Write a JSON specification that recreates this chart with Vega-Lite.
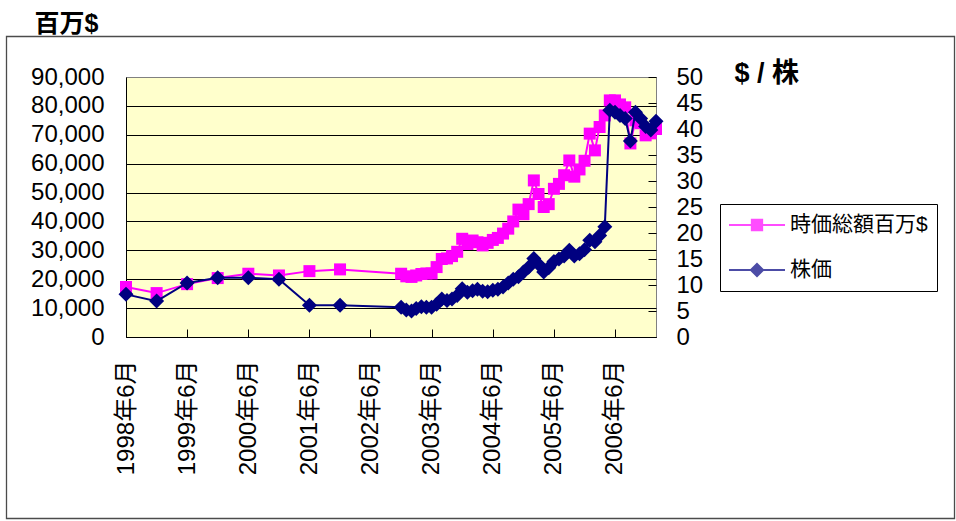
{
  "$schema": "https://vega.github.io/schema/vega-lite/v6.json",
  "autosize": "none",
  "width": 530,
  "height": 260,
  "padding": {"left": 126, "top": 77, "right": 300, "bottom": 184},
  "background": "white",
  "view": {"fill": "#FFFFCC", "stroke": "#808080", "strokeWidth": 1},
  "data": {"values": [
    {"date": "1998-06-01", "cap": 17300, "price": 8.2},
    {"date": "1998-12-01", "cap": 15200, "price": 6.9},
    {"date": "1999-06-01", "cap": 18300, "price": 10.4},
    {"date": "1999-12-01", "cap": 20400, "price": 11.4},
    {"date": "2000-06-01", "cap": 21900, "price": 11.4},
    {"date": "2000-12-01", "cap": 21300, "price": 11.1},
    {"date": "2001-06-01", "cap": 22800, "price": 6.1},
    {"date": "2001-12-01", "cap": 23400, "price": 6.1},
    {"date": "2002-12-01", "cap": 21900, "price": 5.7},
    {"date": "2003-01-01", "cap": 21000, "price": 5.2},
    {"date": "2003-02-01", "cap": 20800, "price": 5.0},
    {"date": "2003-03-01", "cap": 21300, "price": 5.5},
    {"date": "2003-04-01", "cap": 21800, "price": 5.8},
    {"date": "2003-05-01", "cap": 22000, "price": 5.7},
    {"date": "2003-06-01", "cap": 22000, "price": 5.7},
    {"date": "2003-07-01", "cap": 24200, "price": 6.3},
    {"date": "2003-08-01", "cap": 27000, "price": 7.3},
    {"date": "2003-09-01", "cap": 27200, "price": 7.0},
    {"date": "2003-10-01", "cap": 28000, "price": 7.3},
    {"date": "2003-11-01", "cap": 29500, "price": 8.0},
    {"date": "2003-12-01", "cap": 34000, "price": 9.3},
    {"date": "2004-01-01", "cap": 32200, "price": 8.6},
    {"date": "2004-02-01", "cap": 33400, "price": 8.9},
    {"date": "2004-03-01", "cap": 32800, "price": 9.2},
    {"date": "2004-04-01", "cap": 31700, "price": 8.8},
    {"date": "2004-05-01", "cap": 32600, "price": 8.7},
    {"date": "2004-06-01", "cap": 33600, "price": 9.0},
    {"date": "2004-07-01", "cap": 34300, "price": 9.2},
    {"date": "2004-08-01", "cap": 35800, "price": 9.6},
    {"date": "2004-09-01", "cap": 37500, "price": 10.4},
    {"date": "2004-10-01", "cap": 40000, "price": 11.1},
    {"date": "2004-11-01", "cap": 44100, "price": 11.6},
    {"date": "2004-12-01", "cap": 42500, "price": 12.5},
    {"date": "2005-01-01", "cap": 46000, "price": 13.4},
    {"date": "2005-02-01", "cap": 54200, "price": 15.1},
    {"date": "2005-03-01", "cap": 49500, "price": 14.0},
    {"date": "2005-04-01", "cap": 45000, "price": 12.5},
    {"date": "2005-05-01", "cap": 46000, "price": 13.3},
    {"date": "2005-06-01", "cap": 51300, "price": 14.5},
    {"date": "2005-07-01", "cap": 53000, "price": 15.0},
    {"date": "2005-08-01", "cap": 56000, "price": 15.6},
    {"date": "2005-09-01", "cap": 61100, "price": 16.7},
    {"date": "2005-10-01", "cap": 55500, "price": 15.6},
    {"date": "2005-11-01", "cap": 58000, "price": 16.0},
    {"date": "2005-12-01", "cap": 61000, "price": 16.8},
    {"date": "2006-01-01", "cap": 70400, "price": 18.6},
    {"date": "2006-02-01", "cap": 64600, "price": 18.3},
    {"date": "2006-03-01", "cap": 72700, "price": 19.5},
    {"date": "2006-04-01", "cap": 76700, "price": 21.2},
    {"date": "2006-05-01", "cap": 81900, "price": 43.6},
    {"date": "2006-06-01", "cap": 81900, "price": 43.2},
    {"date": "2006-07-01", "cap": 80500, "price": 42.6},
    {"date": "2006-08-01", "cap": 79500, "price": 42.0},
    {"date": "2006-09-01", "cap": 67000, "price": 37.7},
    {"date": "2006-10-01", "cap": 75000, "price": 43.2},
    {"date": "2006-11-01", "cap": 74000, "price": 42.0},
    {"date": "2006-12-01", "cap": 69800, "price": 40.5},
    {"date": "2007-01-01", "cap": 70500, "price": 39.8},
    {"date": "2007-02-01", "cap": 72000, "price": 41.5}
  ]},
  "layer": [
    {
      "encoding": {
        "x": {
          "field": "date", "type": "temporal",
          "scale": {"type": "utc", "domain": [{"year": 1998, "month": 6, "date": 1, "utc": true}, {"year": 2007, "month": 2, "date": 1, "utc": true}]},
          "axis": {
            "title": null,
            "values": [
              {"year": 1998, "month": 6, "date": 1, "utc": true},
              {"year": 1999, "month": 6, "date": 1, "utc": true},
              {"year": 2000, "month": 6, "date": 1, "utc": true},
              {"year": 2001, "month": 6, "date": 1, "utc": true},
              {"year": 2002, "month": 6, "date": 1, "utc": true},
              {"year": 2003, "month": 6, "date": 1, "utc": true},
              {"year": 2004, "month": 6, "date": 1, "utc": true},
              {"year": 2005, "month": 6, "date": 1, "utc": true},
              {"year": 2006, "month": 6, "date": 1, "utc": true}
            ],
            "format": "%Y年%-m月",
            "labelAngle": 270,
            "labelOverlap": false,
            "labelFlush": false,
            "tickSize": -8,
            "labelPadding": 31,
            "grid": false
          }
        },
        "y": {
          "field": "cap", "type": "quantitative",
          "scale": {"domain": [0, 90000]},
          "axis": {
            "orient": "left",
            "values": [0, 10000, 20000, 30000, 40000, 50000, 60000, 70000, 80000, 90000],
            "format": ",d",
            "grid": true,
            "gridColor": {"condition": {"test": "datum.value == 90000", "value": "#808080"}, "value": "#000000"},
            "gridWidth": 1,
            "ticks": false,
            "labelPadding": 22,
            "title": "百万$",
            "titleAngle": 0,
            "titleX": -92,
            "titleY": -46,
            "titleAlign": "left",
            "titleBaseline": "alphabetic",
            "titleFontSize": 25,
            "titleFontWeight": "bold"
          }
        }
      },
      "layer": [
        {"mark": {"type": "line", "color": "#FF00FF", "strokeWidth": 2}},
        {"mark": {"type": "point", "shape": "square", "filled": true, "size": 144, "color": "#FF00FF", "opacity": 1}}
      ]
    },
    {
      "encoding": {
        "x": {"field": "date", "type": "temporal"},
        "y": {
          "field": "price", "type": "quantitative",
          "scale": {"domain": [0, 50]},
          "axis": {
            "orient": "right",
            "values": [0, 5, 10, 15, 20, 25, 30, 35, 40, 45, 50],
            "grid": false,
            "domain": false,
            "tickSize": -8,
            "labelPadding": 28,
            "labelAlign": "left",
            "title": "$ / 株",
            "titleAngle": 0,
            "titleX": 78,
            "titleY": 4,
            "titleAlign": "left",
            "titleBaseline": "alphabetic",
            "titleFontSize": 27,
            "titleFontWeight": "bold"
          }
        }
      },
      "layer": [
        {"mark": {"type": "line", "color": "#000080", "strokeWidth": 2}},
        {"mark": {"type": "point", "shape": "diamond", "filled": true, "size": 225, "color": "#000080", "opacity": 1}}
      ]
    },
    {
      "transform": [{"filter": "false"}],
      "mark": {"type": "point", "filled": true},
      "encoding": {
        "color": {
          "field": "series", "type": "nominal",
          "scale": {"domain": ["時価総額百万$", "株価"], "range": ["#FF00FF", "#000080"]},
          "legend": {
            "orient": "none", "legendX": 594, "legendY": 127, "title": null,
            "direction": "vertical",
            "symbolSize": 3136, "symbolStrokeWidth": 0,
            "labelFontSize": 21, "labelOffset": 5, "labelLimit": 400,
            "padding": 9, "strokeColor": "#000000", "fillColor": "#FFFFFF",
            "clipHeight": 24, "rowPadding": 21
          }
        },
        "shape": {
          "field": "series", "type": "nominal",
          "scale": {"domain": ["時価総額百万$", "株価"], "range": ["M-1,-0.04H1V0.04H-1Z M-0.22,-0.22H0.22V0.22H-0.22Z", "M-1,-0.04H1V0.04H-1Z M0,-0.27L0.27,0L0,0.27L-0.27,0Z"]},
          "legend": {
            "orient": "none", "legendX": 594, "legendY": 127, "title": null,
            "direction": "vertical",
            "symbolSize": 3136, "symbolStrokeWidth": 0,
            "labelFontSize": 21, "labelOffset": 5, "labelLimit": 400,
            "padding": 9, "strokeColor": "#000000", "fillColor": "#FFFFFF",
            "clipHeight": 24, "rowPadding": 21
          }
        }
      }
    },
    {
      "transform": [{"filter": "false"}],
      "mark": {"type": "point"},
      "encoding": {
        "stroke": {
          "field": "frame", "type": "quantitative",
          "scale": {"domain": [0, 1], "range": ["transparent", "transparent"]},
          "legend": {
            "orient": "none", "legendX": -119.5, "legendY": -40.5, "title": null,
            "direction": "vertical",
            "gradientLength": 482, "gradientThickness": 948,
            "gradientStrokeColor": "#000000", "gradientStrokeWidth": 1.3,
            "padding": 0, "labelExpr": "''", "labelFontSize": 1, "tickCount": 2
          }
        }
      }
    }
  ],
  "resolve": {"scale": {"y": "independent"}},
  "config": {
    "font": "Liberation Sans, Noto Sans CJK JP, sans-serif",
    "view": {"fill": "#FFFFCC", "stroke": "#808080", "strokeWidth": 1},
    "axis": {
      "labelFont": "Liberation Sans, Noto Sans CJK JP, sans-serif",
      "titleFont": "Liberation Sans, Noto Sans CJK JP, sans-serif",
      "labelFontSize": 24,
      "labelColor": "#000000",
      "titleColor": "#000000",
      "domainColor": "#000000",
      "domainWidth": 1,
      "tickColor": "#000000",
      "tickWidth": 1
    },
    "legend": {
      "labelFont": "Liberation Sans, Noto Sans CJK JP, sans-serif",
      "labelColor": "#000000"
    }
  }
}
